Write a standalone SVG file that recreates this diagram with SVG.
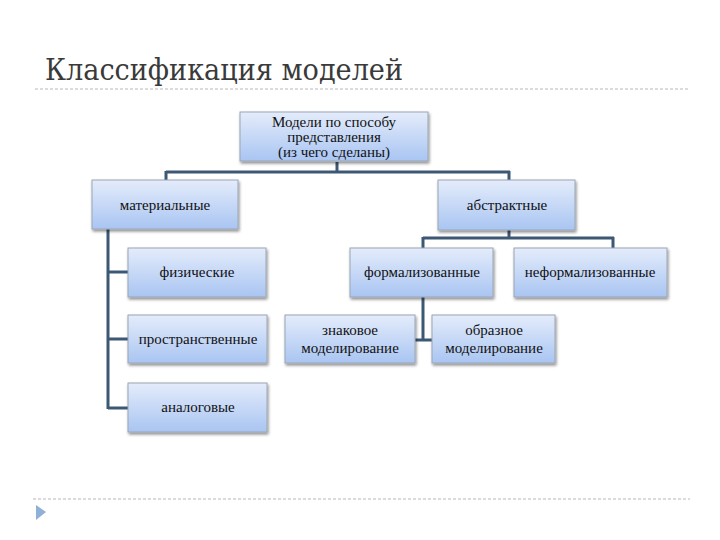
<svg xmlns="http://www.w3.org/2000/svg" width="720" height="540" viewBox="0 0 720 540">
<defs>
<linearGradient id="g" x1="0" y1="0" x2="0" y2="1">
<stop offset="0" stop-color="#e4ecfb"/>
<stop offset="1" stop-color="#a9c5f2"/>
</linearGradient>
<filter id="sh" x="-10%" y="-10%" width="125%" height="130%">
<feGaussianBlur in="SourceAlpha" stdDeviation="1.5"/>
<feOffset dx="1" dy="2" result="b"/>
<feComponentTransfer><feFuncA type="linear" slope="0.45"/></feComponentTransfer>
<feMerge><feMergeNode/><feMergeNode in="SourceGraphic"/></feMerge>
</filter>
</defs>
<style>
.box{fill:url(#g);stroke:#9aa6b4;stroke-width:1;filter:url(#sh)}
.t{font-family:'Times New Roman','Liberation Serif',serif;font-size:15px;fill:#111;text-anchor:middle}
.c{fill:none;stroke:#3d5875;stroke-width:3}
.d{stroke:#b8b8b8;stroke-width:1;stroke-dasharray:3 2}
</style>
<rect width="720" height="540" fill="#fff"/>
<text x="45" y="80" font-family="'DejaVu Serif', serif" font-size="30" fill="#3a3a3a" textLength="358" lengthAdjust="spacingAndGlyphs">Классификация моделей</text>
<line class="d" x1="35" y1="89" x2="690" y2="89"/>
<line class="d" x1="33" y1="499" x2="690" y2="499"/>
<polygon points="36,505 46,512 36,520" fill="#8fb0d8"/>
<g id="connectors">
<path class="c" d="M337,162 V172 M166,172 H510 M166,171 V181 M509,171 V181"/>
<path class="c" d="M108,229 V409 M108,272 H128 M108,339 H128 M108,408 H128"/>
<path class="c" d="M509,230 V238 M423,238 H614 M423,237 V248 M613,237 V248"/>
<path class="c" d="M423,297 V340 M415,340 H432"/>
</g>
<g id="n-top"><rect class="box" x="240" y="112" width="188" height="49"/>
<text class="t" x="334" y="127">Модели по способу</text>
<text class="t" x="334" y="142">представления</text>
<text class="t" x="334" y="157">(из чего сделаны)</text></g>
<g id="n-mat"><rect class="box" x="92" y="180" width="146" height="49"/><text class="t" x="165" y="210">материальные</text></g>
<g id="n-abs"><rect class="box" x="438" y="180" width="137" height="50"/><text class="t" x="507" y="210">абстрактные</text></g>
<g id="n-fiz"><rect class="box" x="128" y="248" width="138" height="49"/><text class="t" x="197" y="277">физические</text></g>
<g id="n-pro"><rect class="box" x="128" y="315" width="139" height="48"/><text class="t" x="198" y="344">пространственные</text></g>
<g id="n-ana"><rect class="box" x="128" y="383" width="139" height="49"/><text class="t" x="198" y="412">аналоговые</text></g>
<g id="n-for"><rect class="box" x="350" y="248" width="143" height="49"/><text class="t" x="422" y="277">формализованные</text></g>
<g id="n-nef"><rect class="box" x="514" y="248" width="153" height="49"/><text class="t" x="590" y="277">неформализованные</text></g>
<g id="n-zn"><rect class="box" x="285" y="315" width="130" height="48"/>
<text class="t" x="350" y="335">знаковое</text><text class="t" x="350" y="353">моделирование</text></g>
<g id="n-ob"><rect class="box" x="432" y="315" width="123" height="48"/>
<text class="t" x="494" y="335">образное</text><text class="t" x="494" y="353">моделирование</text></g>
</svg>
